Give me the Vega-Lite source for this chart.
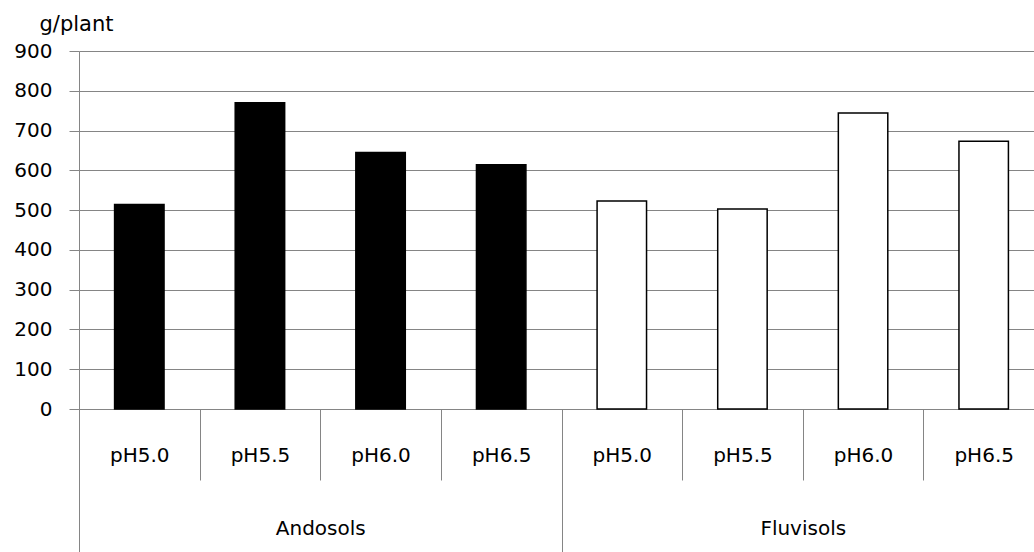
{
  "$schema": "https://vega.github.io/schema/vega-lite/v6.json",
  "width": 965,
  "height": 358,
  "autosize": {"type": "none"},
  "padding": {"left": 79, "top": 51, "right": -10, "bottom": 143},
  "background": "white",
  "config": {
    "view": {"stroke": null},
    "font": "DejaVu Sans",
    "axis": {"labelColor": "black", "labelFont": "DejaVu Sans", "labelFontSize": 20, "titleFont": "DejaVu Sans", "titleColor": "black"}
  },
  "data": {
    "values": [
      {"bar": "Andosols pH5.0", "soil": "Andosols", "ph": "pH5.0", "value": 514},
      {"bar": "Andosols pH5.5", "soil": "Andosols", "ph": "pH5.5", "value": 770},
      {"bar": "Andosols pH6.0", "soil": "Andosols", "ph": "pH6.0", "value": 645},
      {"bar": "Andosols pH6.5", "soil": "Andosols", "ph": "pH6.5", "value": 614},
      {"bar": "Fluvisols pH5.0", "soil": "Fluvisols", "ph": "pH5.0", "value": 523},
      {"bar": "Fluvisols pH5.5", "soil": "Fluvisols", "ph": "pH5.5", "value": 503},
      {"bar": "Fluvisols pH6.0", "soil": "Fluvisols", "ph": "pH6.0", "value": 744},
      {"bar": "Fluvisols pH6.5", "soil": "Fluvisols", "ph": "pH6.5", "value": 673}
    ]
  },
  "encoding": {
    "y": {
      "field": "value",
      "type": "quantitative",
      "scale": {"domain": [0, 900]},
      "axis": {
        "values": [0, 100, 200, 300, 400, 500, 600, 700, 800, 900],
        "grid": true,
        "gridColor": "#858585",
        "gridWidth": 1,
        "domainColor": "#858585",
        "tickColor": "#858585",
        "tickSize": 10,
        "labelPadding": 17,
        "title": "g/plant",
        "titleAngle": 0,
        "titleAlign": "left",
        "titleBaseline": "alphabetic",
        "titleX": -40,
        "titleY": -21,
        "titleFontSize": 21,
        "titleFontWeight": "normal"
      }
    }
  },
  "layer": [
    {
      "mark": {"type": "bar", "width": {"band": 0.41}, "stroke": "black", "strokeWidth": 1.5},
      "encoding": {
        "x": {
          "field": "bar",
          "type": "nominal",
          "sort": null,
          "scale": {"paddingInner": 0, "paddingOuter": 0},
          "axis": {
            "orient": "bottom",
            "title": null,
            "labelExpr": "split(datum.value, ' ')[1]",
            "labelAngle": 0,
            "labelBaseline": "alphabetic",
            "labelPadding": -19,
            "tickBand": "extent",
            "tickSize": 71,
            "tickColor": "#858585",
            "domainColor": "#858585",
            "grid": false
          }
        },
        "fill": {
          "field": "soil",
          "type": "nominal",
          "scale": {"domain": ["Andosols", "Fluvisols"], "range": ["black", "white"]},
          "legend": null
        }
      }
    },
    {
      "mark": {"type": "bar", "opacity": 0},
      "encoding": {
        "x": {
          "field": "soil",
          "type": "nominal",
          "sort": null,
          "scale": {"paddingInner": 0, "paddingOuter": 0},
          "axis": {
            "orient": "bottom",
            "title": null,
            "labelAngle": 0,
            "labelBaseline": "alphabetic",
            "labelPadding": -18,
            "tickBand": "extent",
            "tickSize": 143,
            "tickColor": "#858585",
            "domain": false,
            "grid": false
          }
        }
      }
    }
  ],
  "resolve": {"scale": {"x": "independent"}, "axis": {"x": "independent"}}
}
